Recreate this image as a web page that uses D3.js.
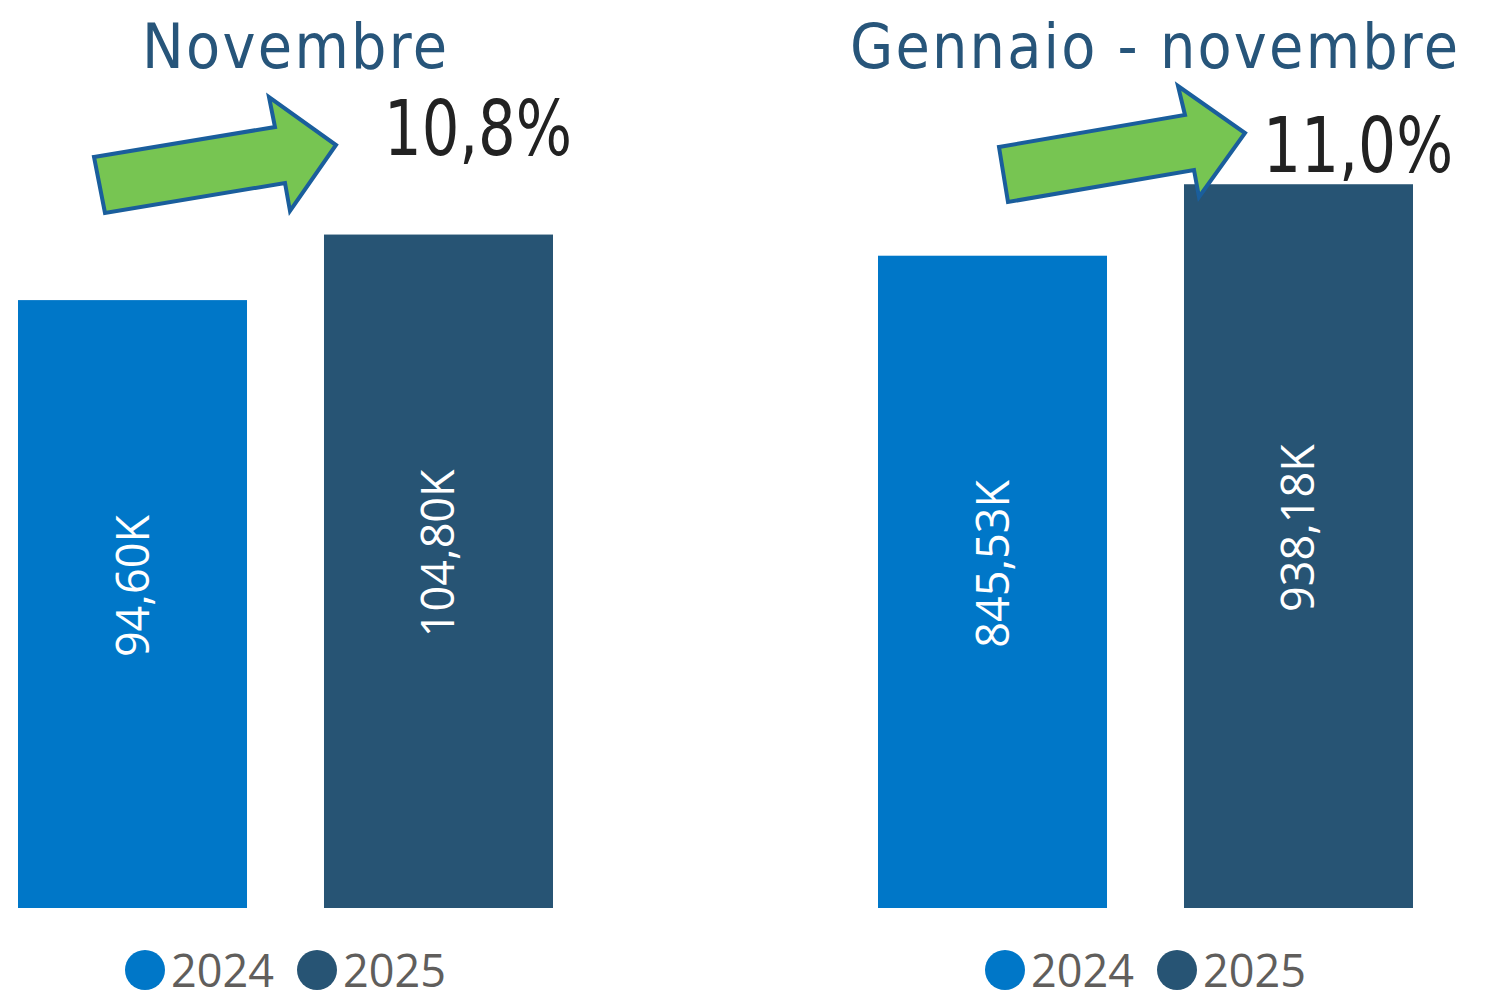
<!DOCTYPE html>
<meta charset="utf-8">
<style>
body { margin: 0; background: #fff; }
.title { font-family: "DejaVu Sans Condensed", "DejaVu Sans"; fill: #27557a; }
.pct { font-family: "DejaVu Sans Condensed", "DejaVu Sans"; fill: #222; }
.val { font-family: "Open Sans", sans-serif; fill: #fff; }
.legend text { font-family: "Open Sans", sans-serif; fill: #605e5c; }
.arrow { fill: #77c552; stroke: #1a5e9c; stroke-width: 4; stroke-linejoin: miter; }
</style>
<svg width="1486" height="1007"></svg>
<script src="https://cdn.jsdelivr.net/npm/d3@7"></script>
<script>
var years = ["2024", "2025"];
var colors = ["#0077c8", "#275474"];

var novValues = [94.60, 104.80];
var novLabels = ["94,60K", "104,80K"];
var ytdValues = [845.53, 938.18];
var ytdLabels = ["845,53K", "938,18K"];

var titles = ["Novembre", "Gennaio - novembre"];
var changes = ["10,8%", "11,0%"];

var svg = d3.select("svg");
var bottom = 908;

var panels = [
  { values: novValues, labels: novLabels, title: titles[0], change: changes[0],
    x0: 18, x1: 553, ymax: 141.3,
    titleX: 142, titleW: 305, pctX: 384, pctY: 155, pctW: 188,
    arrow: [[94,157],[275,127],[269,97],[336,145],[290,211],[285,183],[105,213]],
    legendX: 145 },
  { values: ytdValues, labels: ytdLabels, title: titles[1], change: changes[1],
    x0: 878, x1: 1413, ymax: 1177,
    titleX: 850, titleW: 608, pctX: 1263, pctY: 172, pctW: 190,
    arrow: [[999,147],[1185,115],[1178,86],[1245,133],[1199,197],[1194,170],[1008,202]],
    legendX: 1005 }
];

panels.forEach(function(p) {
  var x = d3.scaleBand().domain(years).range([p.x0, p.x1]).paddingInner(0.2516).paddingOuter(0);
  var y = d3.scaleLinear().domain([0, p.ymax]).range([bottom, 0]);
  var g = svg.append("g");

  g.selectAll("rect")
    .data(p.values)
    .enter().append("rect")
    .attr("x", function(d, i) { return x(years[i]); })
    .attr("y", function(d) { return y(d); })
    .attr("width", x.bandwidth())
    .attr("height", function(d) { return bottom - y(d); })
    .attr("fill", function(d, i) { return colors[i]; });

  g.selectAll("text.val")
    .data(p.values)
    .enter().append("text")
    .attr("class", "val")
    .attr("font-size", 45)
    .attr("text-anchor", "middle")
    .attr("transform", function(d, i) {
      var cx = x(years[i]) + x.bandwidth() / 2 + 16;
      var cy = (y(d) + bottom) / 2 - 18;
      return "translate(" + cx + "," + cy + ") rotate(-90)";
    })
    .text(function(d, i) { return p.labels[i]; });

  g.append("text")
    .attr("class", "title")
    .attr("x", p.titleX)
    .attr("y", 68)
    .attr("font-size", 62)
    .attr("textLength", p.titleW)
    .attr("lengthAdjust", "spacing")
    .text(p.title);

  g.append("polygon")
    .attr("class", "arrow")
    .attr("points", p.arrow.map(function(pt) { return pt.join(","); }).join(" "));

  g.append("text")
    .attr("class", "pct")
    .attr("x", p.pctX)
    .attr("y", p.pctY)
    .attr("font-size", 76)
    .attr("textLength", p.pctW)
    .attr("lengthAdjust", "spacingAndGlyphs")
    .text(p.change);

  var lg = g.append("g").attr("class", "legend");
  years.forEach(function(yr, i) {
    var cx = p.legendX + i * 172;
    lg.append("circle").attr("cx", cx).attr("cy", 970).attr("r", 20).attr("fill", colors[i]);
    lg.append("text").attr("x", cx + 26).attr("y", 987).attr("font-size", 45).text(yr);
  });
});
</script>
